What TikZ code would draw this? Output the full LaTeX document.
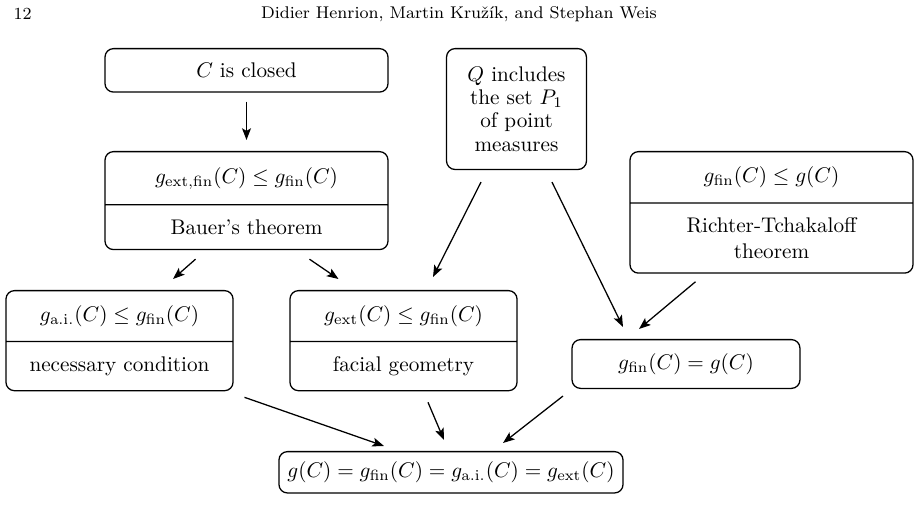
\documentclass[tikz,border=0pt]{standalone}
\usetikzlibrary{calc,arrows.meta,shapes.multipart}

% one part of a split box: fixed width and height, text centred
\newcommand{\celltext}[3]{\parbox[c][#2][c]{#1}{\centering #3}}

\tikzset{
	box/.style={draw, rounded corners=4pt, inner sep=0pt},
	twobox/.style={box, rectangle split, rectangle split parts=2},
}

\begin{document}
\begin{tikzpicture}[x=0.4717pt, y=-0.4717pt, >={Stealth[length=5.5pt, width=4.2pt, inset=1.2pt]}, line join=round, semithick]
	\useasboundingbox (0,0) rectangle (920,528);

	% running head
	\node[font=\footnotesize, anchor=west] (page) at (6,14) {12};
	\node[font=\footnotesize] (head) at (459,14) {Didier Henrion, Martin Kru\v{z}\'{\i}k, and Stephan Weis};

	% --- top row ---
	\node[box, minimum width=133.5pt, minimum height=20.5pt, anchor=north] (closed) at (246.5,48) {$C$ is closed};
	\node[box, text width=66pt, minimum height=57pt, align=center, anchor=north,
		font=\fontsize{10}{11}\selectfont] (points) at (516.5,48)
		{$Q$ includes\\the set $P_1$\\of point\\measures};

	% --- theorems ---
	\node[twobox, anchor=north] (bauer) at (246.5,151)
		{\celltext{133.5pt}{24.5pt}{$g_{\mathrm{ext,fin}}(C)\le g_{\mathrm{fin}}(C)$}%
		\nodepart{two}\celltext{133.5pt}{20.5pt}{Bauer's theorem}};
	\node[twobox, anchor=north] (richter) at (771.5,151)
		{\celltext{133.5pt}{23.6pt}{$g_{\mathrm{fin}}(C)\le g(C)$}%
		\nodepart{two}\celltext{133.5pt}{32.5pt}{Richter-Tchakaloff\\theorem}};

	% --- middle row ---
	\node[twobox, anchor=north] (necessary) at (119.5,290)
		{\celltext{107.1pt}{23.4pt}{$g_{\mathrm{a.i.}}(C)\le g_{\mathrm{fin}}(C)$}%
		\nodepart{two}\celltext{107.1pt}{22.6pt}{necessary condition}};
	\node[twobox, anchor=north] (facial) at (403.5,290)
		{\celltext{107.1pt}{23.4pt}{$g_{\mathrm{ext}}(C)\le g_{\mathrm{fin}}(C)$}%
		\nodepart{two}\celltext{107.1pt}{22.6pt}{facial geometry}};
	\node[box, minimum width=107.5pt, minimum height=23pt, anchor=north] (finite) at (686,339)
		{$g_{\mathrm{fin}}(C)=g(C)$};

	% --- result ---
	\node[box, minimum width=162.3pt, minimum height=19.5pt, anchor=north] (result) at (451,451)
		{$g(C)=g_{\mathrm{fin}}(C)=g_{\mathrm{a.i.}}(C)=g_{\mathrm{ext}}(C)$};

	% implications
	\draw[->] ($(closed.south)+(0,9)$) -- ($(bauer.north)+(0,-11)$);
	\draw[->] ($(bauer.south)+(-51,9)$) -- ($(necessary.north)+(53.5,-11)$);
	\draw[->] ($(bauer.south)+(63,9)$) -- ($(facial.north)+(-65,-11)$);
	\draw[->] ($(points.south)+(-35.5,12)$) -- ($(facial.north)+(29.5,-13)$);
	\draw[->] ($(points.south)+(35.5,12)$) -- ($(finite.north)+(-63,-12)$);
	\draw[->] ($(richter.south)+(-76,8)$) -- ($(finite.north)+(-47,-10)$);
	\draw[->] ($(necessary.south)+(125,6)$) -- ($(result.north)+(-67,-5)$);
	\draw[->] ($(facial.south)+(24.5,11)$) -- ($(result.north)+(-7,-11)$);
	\draw[->] ($(finite.south)+(-123,7)$) -- ($(result.north)+(52,-8)$);

\end{tikzpicture}
\end{document}
